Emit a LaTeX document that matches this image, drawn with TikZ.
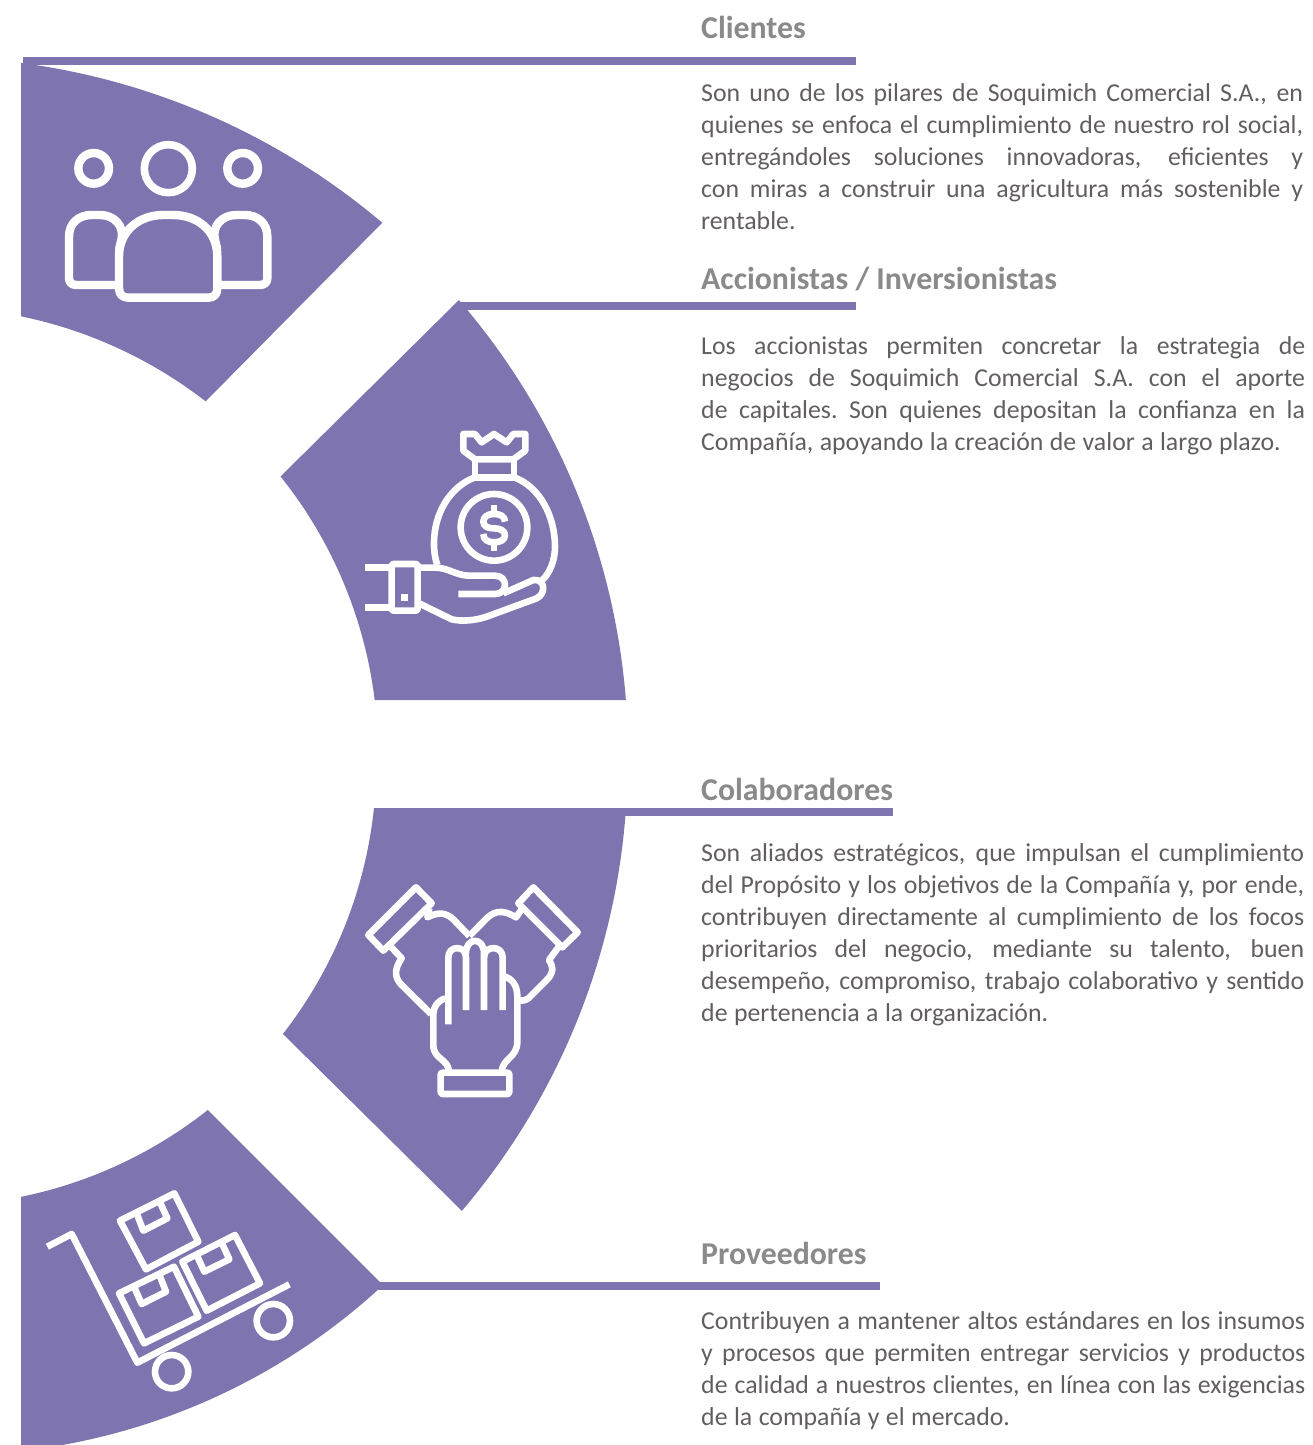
\documentclass[tikz,border=0pt]{standalone}
\usepackage{fontspec}
\setmainfont{Carlito}
\definecolor{brand}{HTML}{7E75B0}
\definecolor{headc}{HTML}{8A8A8A}
\definecolor{bodyc}{HTML}{625E5E}
\newcommand\parasetup{\baselineskip=32pt\relax\spaceskip=.25em plus .6em minus .12em\relax\xspaceskip=\spaceskip}
\newcommand\jl[2]{\hbox to #1pt{\rule{0pt}{20pt}#2}}
\newcommand\lastln[1]{\hbox{\rule{0pt}{20pt}#1}}
\tikzset{
  head/.style={anchor=base west,inner sep=0pt,text=headc,font=\fontsize{31.8}{32}\selectfont\bfseries},
  para/.style={anchor=north west,inner sep=0pt,text=bodyc,text width=604pt,align=left,font=\fontsize{25.8}{32}\selectfont},
  icon/.style={draw=white,line width=6.6pt,line join=round,line cap=butt},
  iconb/.style={draw=white,line width=8.4pt,line join=round,line cap=butt},
  bar/.style={fill=brand}
}
\begin{document}
\begin{tikzpicture}[x=1pt,y=-1pt]
\useasboundingbox (0,0) rectangle (1313,1445);
% sectors
\fill[brand] (21,62) -- plot[domain=-82.54:-49.75,samples=70] ({-70+700*cos(\x)},{757+700*sin(\x)})
   -- (382,223) -- (206,401) -- plot[domain=-52.2:-78.34,samples=70] ({-70+450*cos(\x)},{757+450*sin(\x)}) -- (21,316) -- cycle;
\fill[brand] (626,700) -- plot[domain=-4.46:-40.85,samples=70] ({-66+694*cos(\x)},{754+694*sin(\x)})
   -- (459,300) -- (281,476) -- plot[domain=-38.7:-7,samples=70] ({-66+444*cos(\x)},{754+444*sin(\x)}) -- (374,700) -- cycle;
\fill[brand] (626,808) -- plot[domain=3.88:40.43,samples=70] ({-66+693.6*cos(\x)},{761+693.6*sin(\x)})
   -- (462,1211) -- (283,1034) -- plot[domain=37.93:5.97,samples=70] ({-66+442.4*cos(\x)},{762+442.4*sin(\x)}) -- (374,808) -- cycle;
\fill[brand] (21,1197) -- plot[domain=78.48:51.63,samples=70] ({-67.7+444*cos(\x)},{761.8+444*sin(\x)})
   -- (208,1110) -- (383,1285) -- plot[domain=47.2:83.6,samples=70] ({-50+637*cos(\x)},{818+637*sin(\x)}) -- (21,1451) -- cycle;
% bars
\fill[bar] (23,57) rectangle (856,65);
\fill[bar] (459,302) rectangle (856,310);
\fill[bar] (620,808) rectangle (893,816);
\fill[bar] (378,1282) rectangle (880,1290);
% headings
\node[head] (h1) at (701,38) {Clientes};
\node[head] (h2) at (701,289) {Accionistas / Inversionistas};
\node[head] (h3) at (701,800) {Colaboradores};
\node[head] (h4) at (701,1264) {Proveedores};
% paragraphs
\node[para] (p1) at (701,81) {\parasetup
\jl{602}{Son uno de los pilares de Soquimich Comercial S.A., en}
\jl{602}{quienes se enfoca el cumplimiento de nuestro rol social,}
\jl{602}{entregándoles soluciones innovadoras, eficientes y}
\jl{602}{con miras a construir una agricultura más sostenible y}
\lastln{rentable.}};
\node[para] (p2) at (701,334) {\parasetup
\jl{604}{Los accionistas permiten concretar la estrategia de}
\jl{604}{negocios de Soquimich Comercial S.A. con el aporte}
\jl{604}{de capitales. Son quienes depositan la confianza en la}
\lastln{Compañía, apoyando la creación de valor a largo plazo.}};
\node[para] (p3) at (701,841) {\parasetup
\jl{603}{Son aliados estratégicos, que impulsan el cumplimiento}
\jl{603}{del Propósito y los objetivos de la Compañía y, por ende,}
\jl{603}{contribuyen directamente al cumplimiento de los focos}
\jl{603}{prioritarios del negocio, mediante su talento, buen}
\jl{603}{desempeño, compromiso, trabajo colaborativo y sentido}
\lastln{de pertenencia a la organización.}};
\node[para] (p4) at (701,1309) {\parasetup
\jl{604}{Contribuyen a mantener altos estándares en los insumos}
\jl{604}{y procesos que permiten entregar servicios y productos}
\jl{604}{de calidad a nuestros clientes, en línea con las exigencias}
\lastln{de la compañía y el mercado.}};
% icon 1: people
\begin{scope}[shift={(20,50)},scale=1/3]
\draw[iconb] (221,355) circle[radius=46];
\draw[iconb,line width=7.6pt] (445,356) circle[radius=72];
\draw[iconb] (668,355) circle[radius=46];
\draw[iconb] (297,620) .. controls (297,540) and (360,495) .. (430,495) -- (460,495)
  .. controls (530,495) and (592,540) .. (592,620) -- (592,715) .. controls (592,735) and (580,743) .. (565,743)
  -- (325,743) .. controls (310,743) and (297,735) .. (297,715) -- cycle;
\draw[iconb] (290,705) -- (170,705) .. controls (155,705) and (147,697) .. (147,685) -- (147,560)
  .. controls (147,520) and (175,495) .. (215,495) -- (240,495) .. controls (285,495) and (312,530) .. (305,565) -- (297,600);
\draw[iconb] (599,705) -- (719,705) .. controls (734,705) and (742,697) .. (742,685) -- (742,560)
  .. controls (742,520) and (714,495) .. (674,495) -- (649,495) .. controls (604,495) and (577,530) .. (584,565) -- (592,600);
\end{scope}
% icon 2: money bag on hand
\begin{scope}[shift={(340,410)},scale=1/3]
\draw[icon] (370,72) -- (405,72) -- (425,97) -- (462,72) -- (500,97) -- (520,72) -- (556,72) -- (556,122) -- (520,148) -- (405,148) -- (370,122) -- cycle;
\draw[icon] (405,148) -- (405,202) -- (522,202) -- (522,148);
\draw[icon] (405,202) .. controls (330,230) and (282,310) .. (282,400) .. controls (282,425) and (285,445) .. (292,465);
\draw[icon] (522,202) .. controls (600,230) and (645,320) .. (645,410) .. controls (645,450) and (630,490) .. (605,512);
\draw[icon] (462,352) circle[radius=100];
\draw[icon] (462,285) -- (462,312);
\draw[icon] (462,397) -- (462,422);
\draw[icon] (495,335) .. controls (495,318) and (480,312) .. (462,312) .. controls (440,312) and (430,322) .. (430,335)
  .. controls (430,350) and (445,355) .. (462,355) .. controls (480,355) and (495,362) .. (495,376)
  .. controls (495,390) and (480,397) .. (462,397) .. controls (445,397) and (430,390) .. (430,372);
\draw[icon,rounded corners=2pt] (155,462) rectangle (233,602);
\draw[icon] (75,473) -- (155,473);
\draw[icon] (75,592) -- (155,592);
\fill[white] (183,552) rectangle (205,573);
\draw[icon] (233,473) -- (285,473) .. controls (325,473) and (345,495) .. (385,497) -- (465,497)
  .. controls (505,497) and (505,552) .. (465,552) -- (355,552);
\draw[icon] (233,578) -- (335,628) .. controls (365,635) and (405,632) .. (440,620) -- (590,565)
  .. controls (620,550) and (615,505) .. (580,510) -- (490,550);
\end{scope}
% icon 3: hands
\begin{scope}[shift={(350,870)},scale=1/3]
\draw[icon] (198,52) -- (245,100) -- (100,242) -- (55,195) -- cycle;
\draw[icon] (550,52) -- (683,187) -- (637,232) -- (505,100) -- cycle;
\draw[icon] (238,115) -- (232,142) .. controls (262,127) and (285,125) .. (310,148) -- (358,198);
\draw[icon] (118,225) -- (155,265) .. controls (130,300) and (135,325) .. (155,345) -- (243,432);
\draw[icon] (515,118) -- (498,142) .. controls (470,125) and (440,115) .. (410,145) -- (358,198);
\draw[icon] (630,225) -- (597,270) .. controls (612,295) and (610,310) .. (590,330) -- (535,385) .. controls (525,392) and (518,392) .. (508,392);
\draw[icon,rounded corners=2pt] (272,608) rectangle (478,672);
\draw[icon] (295,463) -- (295,262) .. controls (295,225) and (348,225) .. (348,262) -- (348,420);
\draw[icon] (348,250) .. controls (348,200) and (402,200) .. (402,250) -- (402,420);
\draw[icon] (402,262) .. controls (402,225) and (458,225) .. (458,262) -- (458,420);
\draw[icon] (458,318) .. controls (490,325) and (502,350) .. (502,380) -- (502,515) .. controls (502,565) and (455,565) .. (455,608);
\draw[icon] (287,385) .. controls (262,392) and (250,410) .. (250,435) -- (250,525) .. controls (250,570) and (297,565) .. (297,608);
\end{scope}
% icon 4: trolley
\begin{scope}[shift={(20,1170)},scale=1/3]
\draw[icon] (82,230) -- (155,192) -- (352,578) -- (808,343);
\draw[icon] (455,605) circle[radius=50];
\draw[icon] (760,452) circle[radius=50];
\draw[icon] (300,152) -- (463,70) -- (535,215) -- (378,298) -- cycle;
\draw[icon] (350,130) -- (370,182) -- (442,145) -- (420,97);
\draw[icon] (297,370) -- (462,290) -- (535,440) -- (372,520) -- cycle;
\draw[icon] (342,350) -- (365,402) -- (438,365) -- (417,312);
\draw[icon] (487,275) -- (645,195) -- (720,340) -- (560,422) -- cycle;
\draw[icon] (530,255) -- (553,305) -- (628,268) -- (605,218);
\end{scope}
\end{tikzpicture}
\end{document}
